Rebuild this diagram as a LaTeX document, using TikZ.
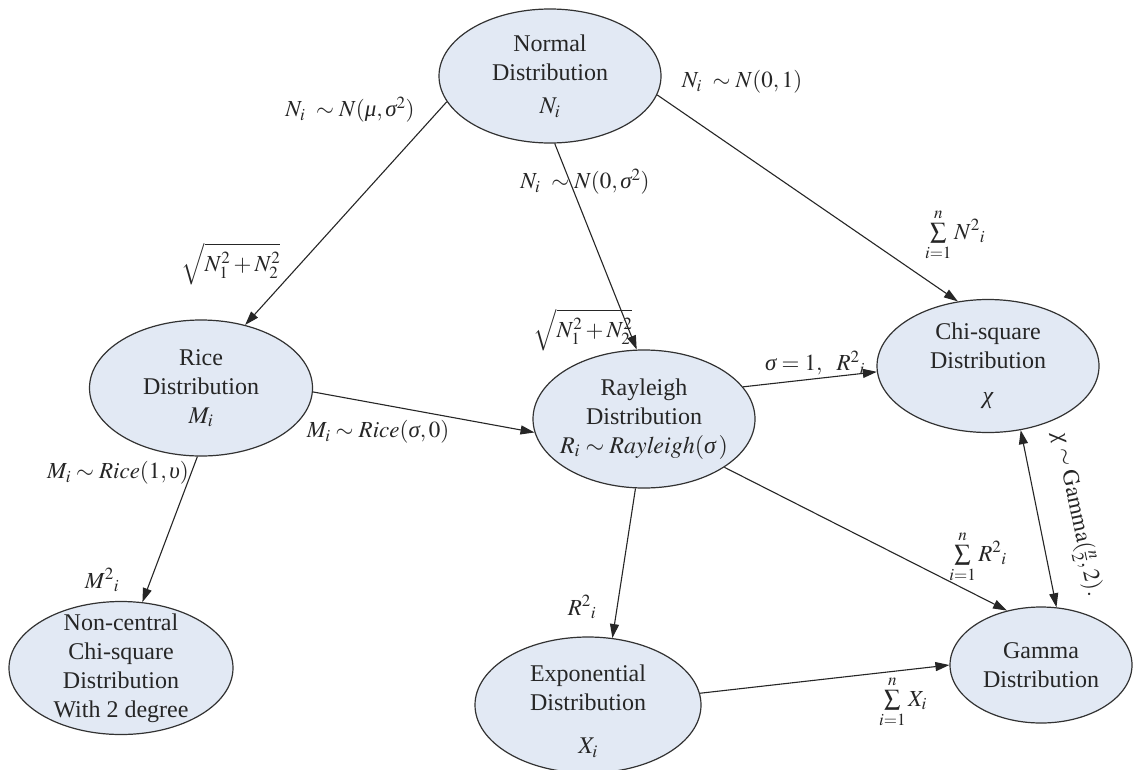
\documentclass[tikz,border=0pt]{standalone}
\usepackage{mathptmx}
\usepackage{fontspec}
\setmainfont{Liberation Serif}
\usetikzlibrary{shapes.geometric,arrows.meta}
\newcommand{\grk}[1]{\mbox{\itshape #1}}
\definecolor{efill}{RGB}{226,233,244}
\definecolor{edraw}{RGB}{50,50,50}
\begin{document}
\begin{tikzpicture}[x=1pt,y=-1pt,
  dist/.style={ellipse,draw=edraw,fill=efill,line width=1.2pt,inner sep=0pt,minimum width=222pt,minimum height=134pt},
  dtext/.style={align=center,font=\fontsize{24}{29}\selectfont,text=black!85,inner sep=0pt},
  lbl/.style={font=\fontsize{23}{27}\selectfont,inner sep=0pt,text=black!85},
  arr/.style={-{Triangle[length=14pt,width=9pt]},line width=1.1pt,draw=black!85},
  darr/.style={{Triangle[length=14pt,width=9pt]}-{Triangle[length=14pt,width=9pt]},line width=1.1pt,draw=black!85}]
\fill[white] (0,0) rectangle (1134,769);
\useasboundingbox (0,0) rectangle (1134,769);

% distributions
\node[dist] (normal) at (550,76) {};
\node[dtext] (normalt) at (normal.center) {Normal\\Distribution\\[4pt]$N_i$};
\node[dist,minimum width=223pt,minimum height=136pt] (rice) at (201,388) {};
\node[dtext] (ricet) at (rice.center) {Rice\\Distribution\\$M_i$};
\node[dist,minimum height=138pt] (rayleigh) at (644,419) {};
\node[dtext] (rayleight) at (rayleigh.center) {Rayleigh\\Distribution\\$R_i\sim \mathit{Rayleigh}(\grk{σ}\,)$};
\node[dist,minimum height=133pt] (chi) at (988,366) {};
\node[dtext] (chit) at (chi.center) {Chi-square\\Distribution\\[6pt]\grk{χ}};
\node[dist,minimum width=182pt,minimum height=116pt] (gamma) at (1041,665) {};
\node[dtext] (gammat) at (gamma.center) {Gamma\\Distribution};
\node[dist,minimum width=226pt,minimum height=136pt] (expo) at (588,705) {};
\node[dtext] (expot) at ([yshift=-6pt]expo.center) {Exponential\\Distribution\\[14pt]$X_i$};
\node[dist,minimum width=224pt,minimum height=133pt] (noncentral) at (121,668) {};
\node[dtext] (noncentralt) at (noncentral.center) {Non-central\\Chi-square\\Distribution\\With 2 degree};

% connectors
\draw[arr] (normal.194) -- (rice.55);
\draw[arr] (normal.274) -- (rayleigh.96);
\draw[arr] (normal.350) -- (chi.115);
\draw[arr] (rice.358) -- (rayleigh.187);
\draw[arr] (rice.267) -- (noncentral.72);
\draw[arr] (rayleigh.18) -- (chi.183);
\draw[arr] (rayleigh.329) -- (gamma.122);
\draw[arr] (rayleigh.263) -- (expo.70);
\draw[arr] (expo.6) -- (gamma.180);
\draw[darr] (chi.297) -- (gamma.75);

% labels
\node[lbl] (l1a) at (350,110) {$N_i\ \sim N(\grk{μ},\grk{σ}^2)$};
\node[lbl] (l1b) at (231,264) {$\sqrt{N_1^2+N_2^2}$};
\node[lbl] (l2a) at (585,182) {$N_i\ \sim N(0,\grk{σ}^2)$};
\node[lbl] (l2b) at (583,330) {$\sqrt{N_1^2+N_2^2}$};
\node[lbl] (l3a) at (742,82) {$N_i\ \sim N(0,1)$};
\node[lbl] (l3b) at (955,235) {$\sum\limits_{i=1}^{n} N^2{}_i$};
\node[lbl] (l4) at (378,432) {$M_i\sim \mathit{Rice}(\grk{σ},0)$};
\node[lbl] (l5a) at (118,473) {$M_i\sim \mathit{Rice}(1,\grk{υ})$};
\node[lbl] (l5b) at (102,580) {$M^2{}_i$};
\node[lbl] (l6) at (815,363) {$\grk{σ}=1,\ \ R^2{}_i$};
\node[lbl] (l7) at (978,557) {$\sum\limits_{i=1}^{n} R^2{}_i$};
\node[lbl] (l8) at (582,607) {$R^2{}_i$};
\node[lbl] (l9) at (903,702) {$\sum\limits_{i=1}^{n} X_i$};
\node[lbl,rotate=-78] (l10) at (1076,515) {$\grk{χ}\sim\mathrm{Gamma}(\frac{n}{2},2).$};
\end{tikzpicture}
\end{document}
